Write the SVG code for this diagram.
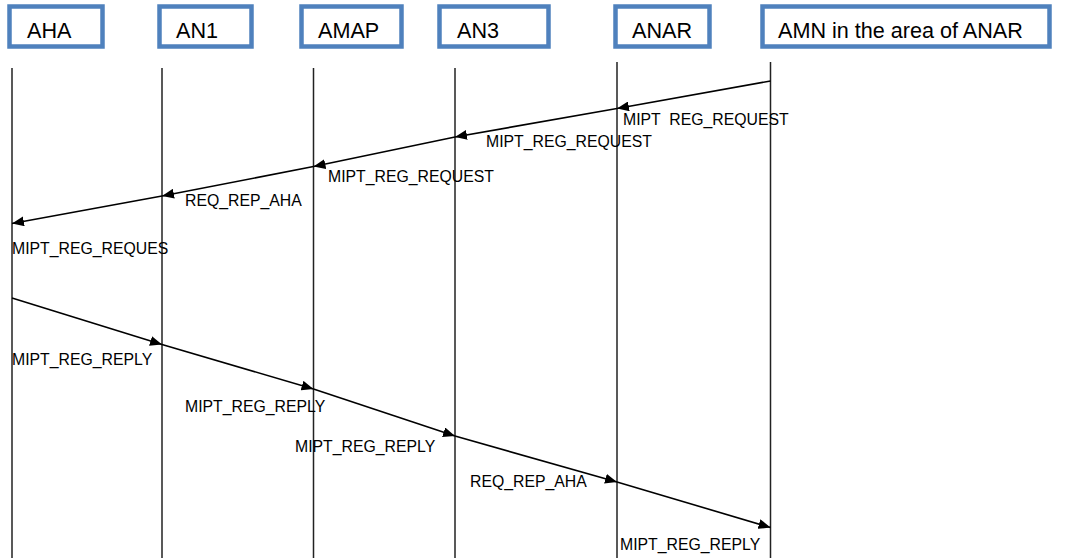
<svg xmlns="http://www.w3.org/2000/svg" width="1066" height="558" viewBox="0 0 1066 558">
<style>
.box{fill:#fff;stroke:#4F81BD;stroke-width:4.5}
.bt{font-family:"Liberation Sans",Arial,sans-serif;font-size:21.6px;fill:#000}
.life{stroke:#222;stroke-width:1.5;fill:none}
.msg{stroke:#000;stroke-width:1.6;fill:none;marker-end:url(#ah)}
.lbl{font-family:"Liberation Sans",Arial,sans-serif;font-size:15.8px;fill:#000}
</style>
<defs>
<marker id="ah" viewBox="0 0 12 10" refX="12" refY="5" markerWidth="12" markerHeight="10" markerUnits="userSpaceOnUse" orient="auto">
<path d="M0,0 L12,5 L0,10 Z" fill="#000"/>
</marker>
</defs>
<rect width="1066" height="558" fill="#fff"/>
<g id="lifelines">
<line class="life" x1="12" y1="68" x2="12" y2="558"/>
<line class="life" x1="162" y1="68" x2="162" y2="558"/>
<line class="life" x1="313.5" y1="68" x2="313.5" y2="558"/>
<line class="life" x1="455" y1="68" x2="455" y2="558"/>
<line class="life" x1="617" y1="62" x2="617" y2="558"/>
<line class="life" x1="770.5" y1="62" x2="770.5" y2="558"/>
</g>
<g id="node-AHA"><rect class="box" x="9.5" y="6.5" width="93" height="40"/><text class="bt" x="27" y="38">AHA</text></g>
<g id="node-AN1"><rect class="box" x="159.5" y="6.5" width="92" height="40"/><text class="bt" x="176" y="38">AN1</text></g>
<g id="node-AMAP"><rect class="box" x="301.5" y="6.5" width="100" height="40"/><text class="bt" x="318" y="38">AMAP</text></g>
<g id="node-AN3"><rect class="box" x="439.5" y="6.5" width="109" height="40"/><text class="bt" x="457" y="38">AN3</text></g>
<g id="node-ANAR"><rect class="box" x="615.5" y="6.5" width="94" height="40"/><text class="bt" x="632" y="38">ANAR</text></g>
<g id="node-AMN"><rect class="box" x="762.5" y="6.5" width="287" height="40"/><text class="bt" x="778" y="38">AMN in the area of ANAR</text></g>
<g id="connectors">
<line class="msg" x1="770.5" y1="81" x2="617" y2="108.5"/>
<line class="msg" x1="617" y1="108.5" x2="455" y2="137"/>
<line class="msg" x1="455" y1="137" x2="313.5" y2="166.5"/>
<line class="msg" x1="313.5" y1="166.5" x2="162" y2="196"/>
<line class="msg" x1="162" y1="196" x2="12" y2="223.5"/>
<line class="msg" x1="12" y1="298" x2="162" y2="344.5"/>
<line class="msg" x1="162" y1="344.5" x2="313.5" y2="389"/>
<line class="msg" x1="313.5" y1="389" x2="455" y2="436"/>
<line class="msg" x1="455" y1="436" x2="617" y2="482"/>
<line class="msg" x1="617" y1="482" x2="770.5" y2="527.5"/>
</g>
<g id="labels">
<text class="lbl" x="623" y="125" xml:space="preserve">MIPT  REG_REQUEST</text>
<text class="lbl" x="486" y="147">MIPT_REG_REQUEST</text>
<text class="lbl" x="328" y="182">MIPT_REG_REQUEST</text>
<text class="lbl" x="185" y="206">REQ_REP_AHA</text>
<text class="lbl" x="12" y="254">MIPT_REG_REQUES</text>
<text class="lbl" x="12" y="365">MIPT_REG_REPLY</text>
<text class="lbl" x="185" y="412">MIPT_REG_REPLY</text>
<text class="lbl" x="295" y="452">MIPT_REG_REPLY</text>
<text class="lbl" x="470" y="487">REQ_REP_AHA</text>
<text class="lbl" x="620" y="550">MIPT_REG_REPLY</text>
</g>
</svg>
